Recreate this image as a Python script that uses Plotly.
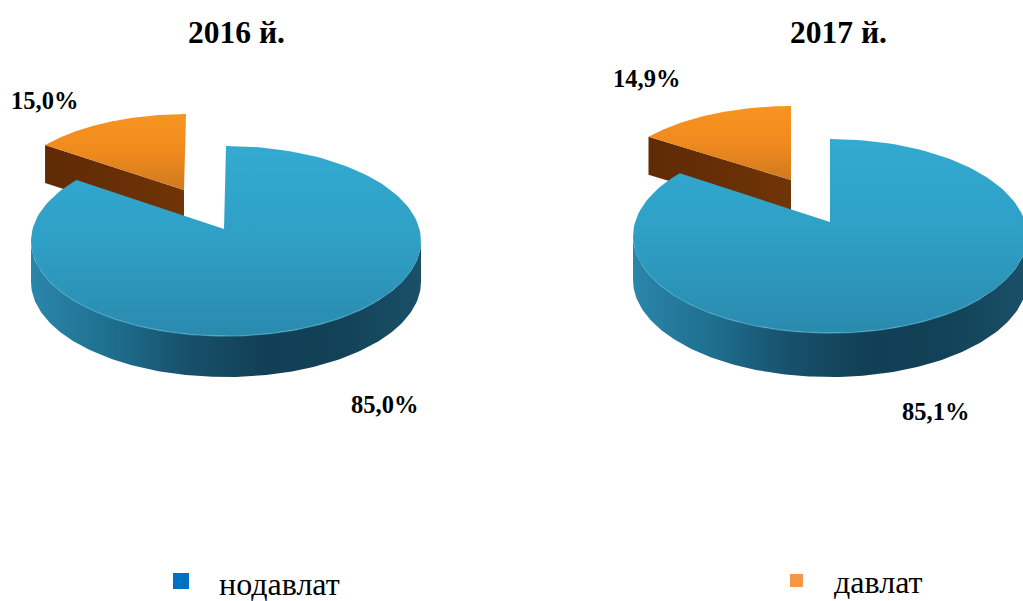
import numpy as np
import plotly.graph_objects as go

# ---- data ----
years = ["2016 й.", "2017 й."]
nonstate_share = [85.0, 85.1]
state_share = [15.0, 14.9]
nonstate_labels = ["85,0%", "85,1%"]
state_labels = ["15,0%", "14,9%"]
legend_names = ["нодавлат", "давлат"]

# ---- layout geometry (pixel-like axis units) ----
W, H = 1023, 601
VIEW_SKEW = 4  # degrees: perspective shift of the cut between the slices
main_geo = [
    dict(apex=(224, 229), c=(226, 241), rx=195, ry=95, depth=41),
    dict(apex=(830, 222), c=(830, 236), rx=197, ry=97, depth=44),
]
slice_geo = [
    dict(apex=(184, 190), c=(186, 201), rx=184, ry=87, depth=38),
    dict(apex=(791, 180), c=(791, 193), rx=187, ry=87, depth=38),
]
title_pos = [(236, 32), (838, 32)]
state_pos = [(44, 100), (646, 78)]
nonstate_pos = [(384, 404), (935, 411)]
legend_marker_pos = [(181, 581), (796.5, 580.5)]
legend_marker_size = [16, 13]
legend_text_pos = [(279, 584), (878, 582)]
legend_colors = ["#0070c0", "#f79646"]
FONT = "Liberation Serif"


def arc(g, t0, t1, n=160):
    """Points on the ellipse; t is the clockwise angle from 12 o'clock, degrees."""
    t = np.radians(np.linspace(t0, t1, n))
    return g["c"][0] + g["rx"] * np.sin(t), g["c"][1] - g["ry"] * np.cos(t)


def area(x, y, gradient, kind, start, stop):
    return go.Scatter(
        x=list(x), y=list(y), mode="lines", fill="toself", line=dict(width=0),
        fillgradient=dict(type=kind, start=start, stop=stop,
                          colorscale=[[i / (len(gradient) - 1), c] for i, c in enumerate(gradient)]),
        hoverinfo="skip", showlegend=False,
    )


fig = go.Figure()

for i in range(2):
    m, s = main_geo[i], slice_geo[i]
    main_end = 360 * nonstate_share[i] / 100 + VIEW_SKEW

    # exploded slice: inner wall, then top face
    sx, sy = arc(s, main_end, 360)
    fig.add_trace(area(
        [sx[0], s["apex"][0], s["apex"][0], sx[0]],
        [sy[0], s["apex"][1], s["apex"][1] + s["depth"], sy[0] + s["depth"]],
        ["#5f2a06", "#703406"], "horizontal", float(sx[0]), s["apex"][0]))
    fig.add_trace(area(
        list(sx) + [s["apex"][0]], list(sy) + [s["apex"][1]],
        ["#f89420", "#f08a1e", "#cf7a1f"], "vertical", s["c"][1] - s["ry"], s["apex"][1]))

    # main slice: outer wall, top face, light rim
    wx, wy = arc(m, 90, 270)
    fig.add_trace(area(
        list(wx) + list(wx[::-1]), list(wy) + list((wy + m["depth"])[::-1]),
        ["#2a86aa", "#1f6f90", "#17506b", "#123f55", "#124257", "#1a5068"], "horizontal",
        m["c"][0] - m["rx"], m["c"][0] + m["rx"]))
    fx, fy = arc(m, 0, main_end)
    fig.add_trace(area(
        list(fx) + [m["apex"][0]], list(fy) + [m["apex"][1]],
        ["#33aad2", "#2f9fc5", "#2a8aae"], "vertical", m["c"][1] - m["ry"], m["c"][1] + m["ry"]))
    rx_, ry_ = arc(m, 130, 250)
    fig.add_trace(go.Scatter(x=rx_, y=ry_, mode="lines",
                             line=dict(color="#4aaccb", width=1.5),
                             opacity=0.6, hoverinfo="skip", showlegend=False))

# legend squares
for p, c, z in zip(legend_marker_pos, legend_colors, legend_marker_size):
    fig.add_trace(go.Scatter(x=[p[0]], y=[p[1]], mode="markers",
                             marker=dict(symbol="square", size=z, color=c),
                             hoverinfo="skip", showlegend=False))


def label(text, pos, size, bold=True):
    fig.add_annotation(x=pos[0], y=pos[1], text=f"<b>{text}</b>" if bold else text,
                       showarrow=False, xanchor="center", yanchor="middle",
                       font=dict(family=FONT, size=size, color="#000000"))


for i in range(2):
    label(years[i], title_pos[i], 31.5)
    label(state_labels[i], state_pos[i], 24.5)
    label(nonstate_labels[i], nonstate_pos[i], 24.5)
    label(legend_names[i], legend_text_pos[i], 32, bold=False)

fig.update_layout(
    width=W, height=H, margin=dict(l=0, r=0, t=0, b=0),
    paper_bgcolor="white", plot_bgcolor="white", showlegend=False,
    xaxis=dict(range=[0, W], visible=False, fixedrange=True),
    yaxis=dict(range=[H, 0], visible=False, fixedrange=True),
)
fig.write_html("out.html", config=dict(displayModeBar=False),
               post_script="document.body.style.margin='0';document.body.style.overflow='hidden';")
